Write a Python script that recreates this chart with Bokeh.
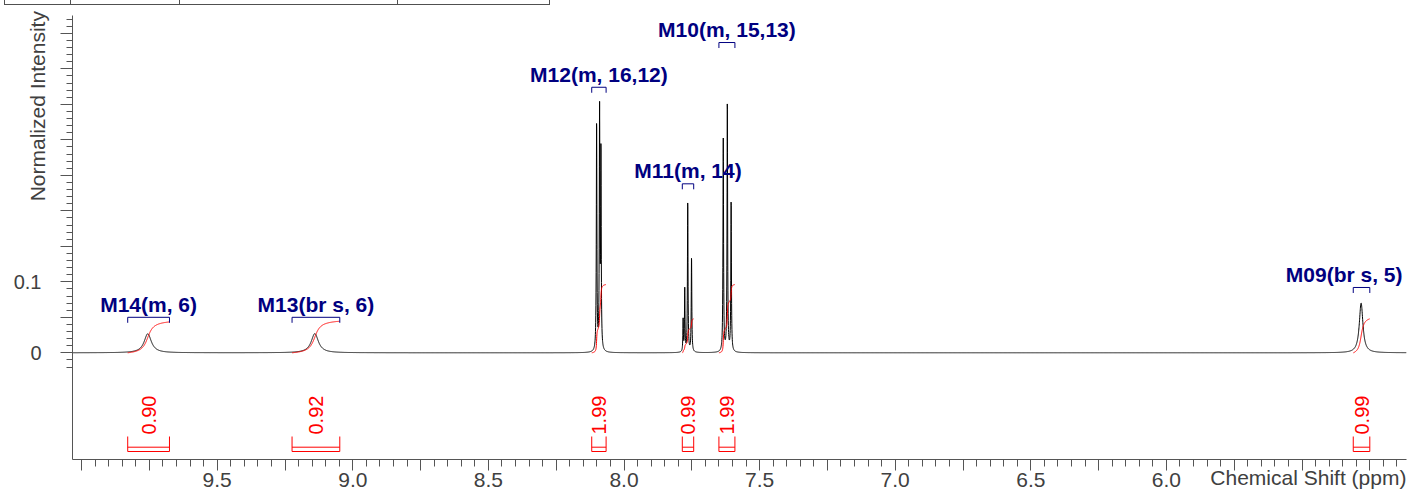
import numpy as np
from math import pi
from bokeh.plotting import figure
from bokeh.models import FixedTicker, Range1d, Div
from bokeh.layouts import column, row
from bokeh.embed import file_html
from bokeh.resources import INLINE
from bokeh.core.properties import value

# ---------------- data ----------------
# peak list of the 1H spectrum (ppm, normalized height, line width in ppm)
peak_ppm    = [9.756, 9.140, 8.101, 8.090, 8.085, 7.782, 7.776, 7.765, 7.751, 7.634, 7.619, 7.605, 5.282]
peak_height = [0.0268, 0.0270, 0.322, 0.334, 0.276, 0.045, 0.088, 0.212, 0.133, 0.300, 0.352, 0.212, 0.070]
peak_fwhm   = [0.032, 0.032, 0.0025, 0.0025, 0.0025, 0.0022, 0.0022, 0.0025, 0.0025, 0.0025, 0.0025, 0.0025, 0.016]

# multiplets
mult_label     = ["M14(m, 6)", "M13(br s, 6)", "M12(m, 16,12)", "M11(m, 14)", "M10(m, 15,13)", "M09(br s, 5)"]
mult_start     = [9.830, 9.224, 8.119, 7.785, 7.650, 5.311]
mult_end       = [9.676, 9.048, 8.066, 7.743, 7.591, 5.250]
mult_level     = [0.050, 0.050, 0.374, 0.238, 0.437, 0.092]
integral_value = [0.90, 0.92, 1.99, 0.99, 1.99, 0.99]
integral_text  = ["0.90", "0.92", "1.99", "0.99", "1.99", "0.99"]
integral_per_unit = 0.0483   # height of the integral curve per integral unit

x_tick_labels = {9.5: "9.5", 9.0: "9.0", 8.5: "8.5", 8.0: "8.0", 7.5: "7.5", 7.0: "7.0", 6.5: "6.5", 6.0: "6.0"}
y_tick_labels = {0.0: "0", 0.1: "0.1"}
x_title = "Chemical Shift (ppm)"
y_title = "Normalized Intensity"

# ---------------- layout (canvas pixels) ----------------
TOP_H = 5
FRAME_LEFT, FRAME_RIGHT, FRAME_TOP, FRAME_BOTTOM = 72, 1406, 15, 459
PPM_REF, PPM_REF_PX, PX_PER_PPM = 9.5, 216.7, 271.2
Y_ZERO_PX, PX_PER_UNIT = 352.3, 710.0

def px2x(px):
    return PPM_REF + (PPM_REF_PX - px) / PX_PER_PPM

def px2y(py):
    return (Y_ZERO_PX - py) / PX_PER_UNIT

x_start, x_end = px2x(FRAME_LEFT), px2x(FRAME_RIGHT)
y_start, y_end = px2y(FRAME_BOTTOM), px2y(FRAME_TOP)

FONT = "Liberation Sans"
AX_COLOR = "#555555"
LBL_COLOR = "#404040"
NAVY = "#000080"
RED = "#ff0000"
NBSP = "\u00a0"
SPACE_W = 0.2778 * 21   # width of a no-break space at 21px

# ---------------- spectrum from the peak list ----------------
ppm = np.arange(x_start, x_end, -0.0004)
spec = np.zeros_like(ppm)
for c, h, w in zip(peak_ppm, peak_height, peak_fwhm):
    hw = w / 2.0
    spec += h * hw * hw / ((ppm - c) ** 2 + hw * hw)

p = figure(frame_width=FRAME_RIGHT - FRAME_LEFT, frame_height=FRAME_BOTTOM - FRAME_TOP,
           min_border_left=FRAME_LEFT, min_border_right=1408 - FRAME_RIGHT,
           min_border_top=FRAME_TOP - TOP_H, min_border_bottom=0,
           x_range=Range1d(x_start, x_end), y_range=Range1d(y_start, y_end),
           output_backend="svg", toolbar_location=None, tools="")
p.outline_line_color = None
p.xgrid.visible = False
p.ygrid.visible = False
p.background_fill_color = "white"
p.border_fill_color = "white"

p.line(ppm, spec, line_color="black", line_width=1)

# integral curves
for s, e, v in zip(mult_start, mult_end, integral_value):
    m = (ppm <= s) & (ppm >= e)
    xs = ppm[m]
    ys = spec[m]
    cum = np.concatenate([[0.0], np.cumsum((ys[1:] + ys[:-1]) / 2.0)])
    cum = cum / cum[-1] * v * integral_per_unit
    p.line(xs, cum, line_color=RED, line_width=1)

# multiplet brackets and labels
leg = 5.5 / PX_PER_UNIT
br_xs = [[s, s, e, e] for s, e in zip(mult_start, mult_end)]
br_ys = [[l - leg, l, l, l - leg] for l in mult_level]
p.multi_line(br_xs, br_ys, line_color=NAVY, line_width=1)

LABEL_GAP = 13 / PX_PER_UNIT
lab_x, lab_y, lab_t = [], [], []
rlab_x, rlab_y, rlab_t = [], [], []
for s, e, l, t in zip(mult_start, mult_end, mult_level, mult_label):
    cx = (s + e) / 2.0
    if cx - x_end < 0.25:   # too close to right edge: keep text inside the frame
        rlab_x.append(px2x(FRAME_RIGHT - 4)); rlab_y.append(l + LABEL_GAP); rlab_t.append(t)
    else:
        lab_x.append(cx); lab_y.append(l + LABEL_GAP); lab_t.append(t)
common = dict(text_font=value(FONT), text_font_size="21px", text_font_style="bold",
              text_color=NAVY, text_baseline="alphabetic")
p.text(x=lab_x, y=lab_y, text=lab_t, text_align="center", **common)
p.text(x=rlab_x, y=rlab_y, text=rlab_t, text_align="right", **common)

# integral marks below the spectrum
y_top, y_mid, y_bot = px2y(436), px2y(446.7), px2y(451)
mk_xs, mk_ys = [], []
for s, e in zip(mult_start, mult_end):
    mk_xs.append([s, s, e, e]); mk_ys.append([y_top, y_bot, y_bot, y_top])
    mk_xs.append([s, e]); mk_ys.append([y_mid, y_mid])
p.multi_line(mk_xs, mk_ys, line_color=RED, line_width=1)
p.text(x=[(s + e) / 2.0 for s, e in zip(mult_start, mult_end)], y=[px2y(434)] * len(mult_start),
       text=integral_text, angle=pi / 2, text_align="left", text_baseline="middle",
       text_font=value(FONT), text_font_size="20px", text_color=RED)

# axes
x_major = [round(10.0 - 0.25 * i, 2) for i in range(20)]
x_minor = [round(10.0 - 0.05 * i, 2) for i in range(98)]
xa = p.xaxis[0]
xa.ticker = FixedTicker(ticks=x_major, minor_ticks=x_minor)
xa.major_label_overrides = {t: x_tick_labels.get(t, "") for t in x_major}
xa.major_tick_out = 11; xa.major_tick_in = 0
xa.minor_tick_out = 7; xa.minor_tick_in = 0
xa.major_label_standoff = 2
xa.major_label_text_font = FONT
xa.major_label_text_font_size = "21px"
xa.major_label_text_color = LBL_COLOR
xa.axis_line_color = AX_COLOR
xa.major_tick_line_color = AX_COLOR
xa.minor_tick_line_color = AX_COLOR
# the title sits at the right end of the tick-label row: it is centred on the frame,
# so leading no-break spaces push the visible words to the right end
x_title_right = 1405
n_pad_x = int(round((2 * (x_title_right - (FRAME_LEFT + FRAME_RIGHT) / 2) - 9.335 * 21) / SPACE_W))
xa.axis_label = NBSP * n_pad_x + x_title
xa.axis_label_standoff = -24
xa.axis_label_text_font = FONT
xa.axis_label_text_font_size = "21px"
xa.axis_label_text_font_style = "normal"
xa.axis_label_text_color = LBL_COLOR

y_major = [round(0.05 * i, 2) for i in range(10)]
y_minor = [round(-0.02 + 0.01 * i, 2) for i in range(50)]
ya = p.yaxis[0]
ya.ticker = FixedTicker(ticks=y_major, minor_ticks=y_minor)
ya.major_label_overrides = {t: y_tick_labels.get(t, "") for t in y_major}
ya.major_tick_out = 12; ya.major_tick_in = 0
ya.minor_tick_out = 6; ya.minor_tick_in = 0
ya.major_label_standoff = 19
ya.major_label_text_font = FONT
ya.major_label_text_font_size = "20px"
ya.major_label_text_color = LBL_COLOR
ya.axis_line_color = AX_COLOR
ya.major_tick_line_color = AX_COLOR
ya.minor_tick_line_color = AX_COLOR
# title near the top of the axis (visible text ends at canvas y = 10)
y_title_top = 10
n_pad_y = int(round((2 * ((FRAME_TOP + FRAME_BOTTOM) / 2 - y_title_top) - 9.058 * 21) / SPACE_W))
ya.axis_label = NBSP * n_pad_y + y_title
ya.axis_label_standoff = -38
ya.axis_label_text_font = FONT
ya.axis_label_text_font_size = "21px"
ya.axis_label_text_font_style = "normal"
ya.axis_label_text_color = LBL_COLOR

# clipped parameter table at the top-left (only its bottom edge is visible)
box_cols = [4, 70, 179, 397, 549]
cells = [Div(text="", width=box_cols[0], height=TOP_H, margin=(0, 0, 0, 0))]
for i in range(len(box_cols) - 1):
    st = {"border-left": "1px solid #505050", "border-bottom": "1px solid #505050",
          "box-sizing": "border-box"}
    w = box_cols[i + 1] - box_cols[i]
    if i == len(box_cols) - 2:
        st["border-right"] = "1px solid #505050"
        w += 1
    cells.append(Div(text="", width=w, height=TOP_H, margin=(0, 0, 0, 0), styles=st))
top = row(*cells, spacing=0)

layout = column(top, p, spacing=0)
open("out.html", "w").write(file_html(layout, INLINE))
